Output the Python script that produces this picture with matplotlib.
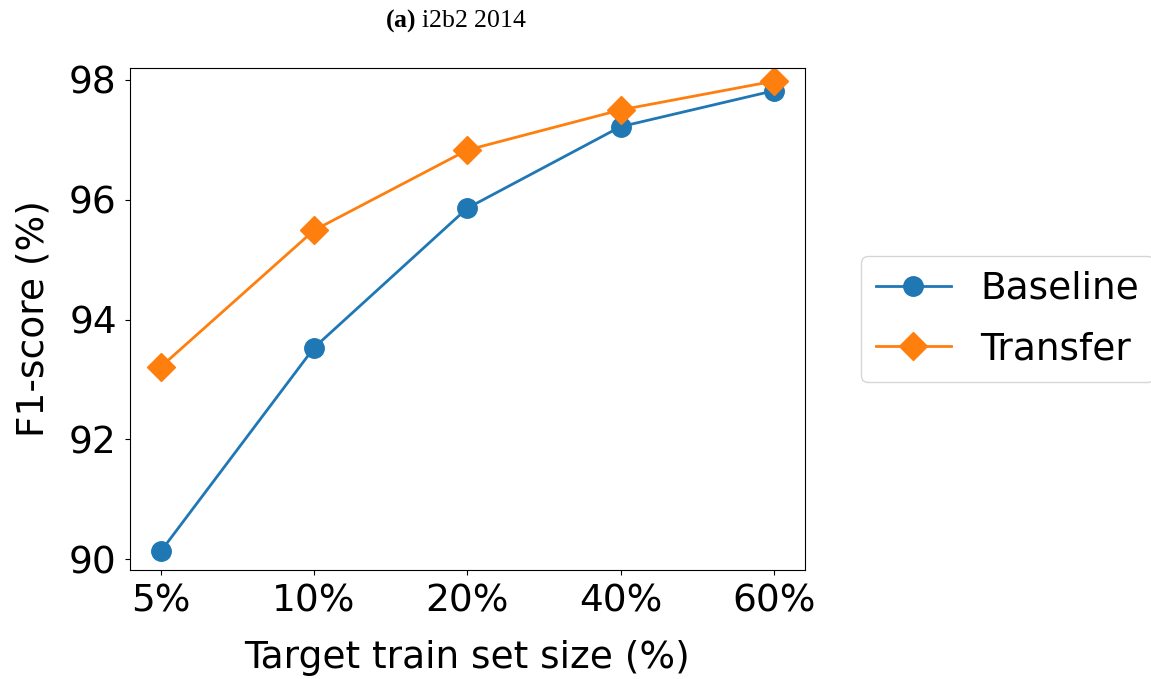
import matplotlib
matplotlib.use('Agg')
import matplotlib.pyplot as plt

plt.rcParams['mathtext.fontset'] = 'custom'
plt.rcParams['mathtext.rm'] = 'Liberation Serif'
plt.rcParams['mathtext.bf'] = 'Liberation Serif:bold'

# datos
tamanos = ['5%', '10%', '20%', '40%', '60%']
baseline = [90.13, 93.53, 95.86, 97.22, 97.82]
transfer = [93.21, 95.49, 96.83, 97.50, 97.98]

fig = plt.figure(figsize=(11.51, 6.79), dpi=100)
ax = fig.add_axes([0.113, 0.1605, 0.586, 0.7394])

x = range(len(tamanos))
ax.plot(x, baseline, color='#1f77b4', marker='o', markersize=14, linewidth=2, label='Baseline')
ax.plot(x, transfer, color='#ff7f0e', marker='D', markersize=14, linewidth=2, label='Transfer')

ax.set_xticks(list(x))
ax.set_xticklabels(tamanos)
ax.set_ylim(89.82, 98.2)
ax.set_yticks([90, 92, 94, 96, 98])
ax.tick_params(labelsize=27, pad=6)
ax.set_xlabel('Target train set size (%)', fontsize=27, labelpad=15)
ax.set_ylabel('F1-score (%)', fontsize=27, labelpad=13)

ax.legend(loc='center left', bbox_to_anchor=(1.083, 0.5), borderaxespad=0,
          labelspacing=0.65, fontsize=27)

# titulo con "(a)" en negrita
fig.text(0.396, 0.969, r'$\mathbf{(a)}$ i2b2 2014', fontsize=18.5,
         family='Liberation Serif', ha='center', va='center')

plt.savefig('out.png', dpi=100)
